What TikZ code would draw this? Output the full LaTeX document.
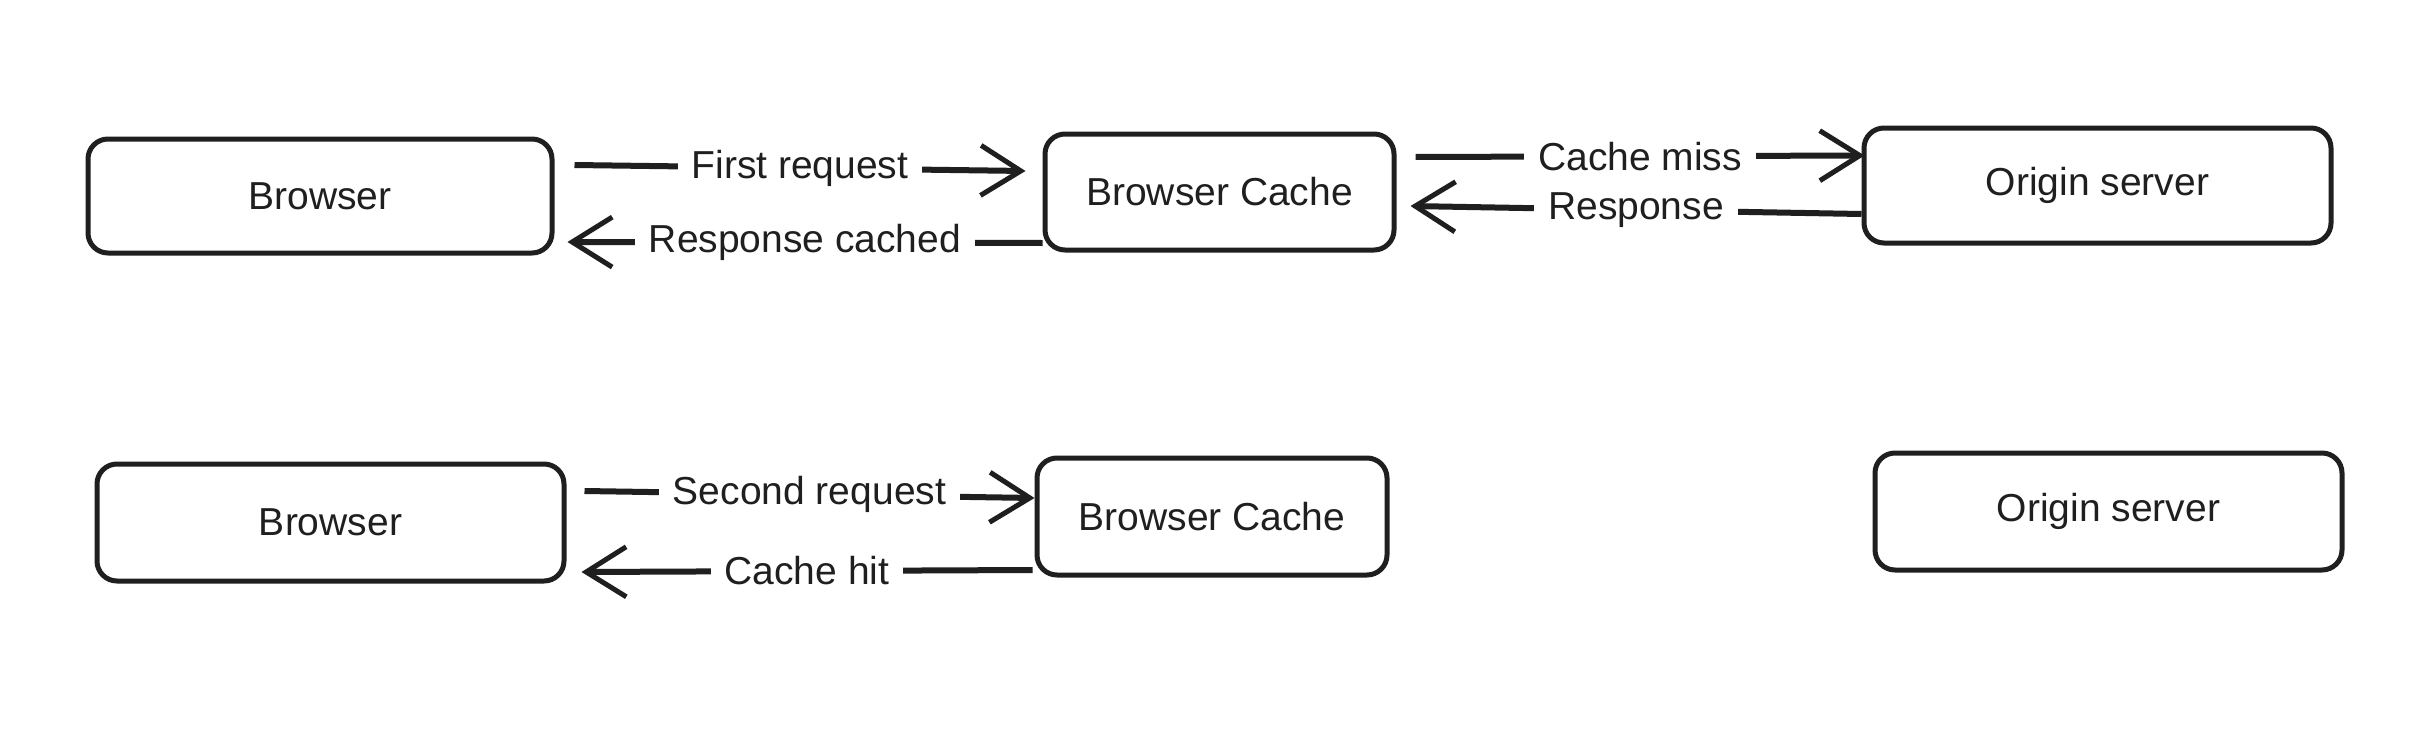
\documentclass[tikz,border=0pt]{standalone}
\usepackage{fontspec}
\setmainfont{Liberation Sans}
\usetikzlibrary{arrows.meta,calc}
\begin{document}
\begin{tikzpicture}[x=1pt,y=-1pt,
  box/.style={draw=black!88, line width=5pt, rounded corners=20pt, fill=white, inner sep=0pt,
    font=\fontsize{39}{46}\selectfont, text=black!88},
  conn/.style={draw=black!88, line width=6pt, -{Straight Barb[length=40pt,width=50pt,line width=5pt]}},
  lbl/.style={fill=white, inner xsep=14pt, inner ysep=2pt, font=\fontsize{39}{46}\selectfont, text=black!88}]
\fill[white] (0,0) rectangle (2416,728);
\useasboundingbox (0,0) rectangle (2416,728);
% top row
\node[box, minimum width=464pt, minimum height=114pt] (b1) at (320,196) {Browser};
\node[box, minimum width=349pt, minimum height=116pt] (c1) at (1219.5,192) {Browser Cache};
\node[box, minimum width=467pt, minimum height=115pt] (o1) at (2097.5,185.5) {Origin server};
% bottom row
\node[box, minimum width=467pt, minimum height=117pt] (b2) at (330.5,522.5) {Browser};
\node[box, minimum width=350pt, minimum height=117pt] (c2) at (1212,516.5) {Browser Cache};
\node[box, minimum width=467pt, minimum height=117pt] (o2) at (2108.5,511.5) {Origin server};
% connectors
\draw[conn] ($(b1.east)+(20,-31)$) -- node[lbl, midway] {First request} ($(c1.west)+(-17,-21)$);
\draw[conn] ($(c1.west)+(0,51)$) -- node[lbl, midway] {Response cached} ($(b1.east)+(13,46)$);
\draw[conn] ($(c1.east)+(19,-35)$) -- node[lbl, midway] {Cache miss} ($(o1.west)+(3,-30)$);
\draw[conn] ($(o1.west)+(0,28.5)$) -- node[lbl, midway] {Response} ($(c1.east)+(14,14)$);
\draw[conn] ($(b2.east)+(18,-31.5)$) -- node[lbl, midway] {Second request} ($(c2.west)+(0,-18.5)$);
\draw[conn] ($(c2.west)+(-2,53.5)$) -- node[lbl, midway] {Cache hit} ($(b2.east)+(15,49.5)$);
\end{tikzpicture}
\end{document}
